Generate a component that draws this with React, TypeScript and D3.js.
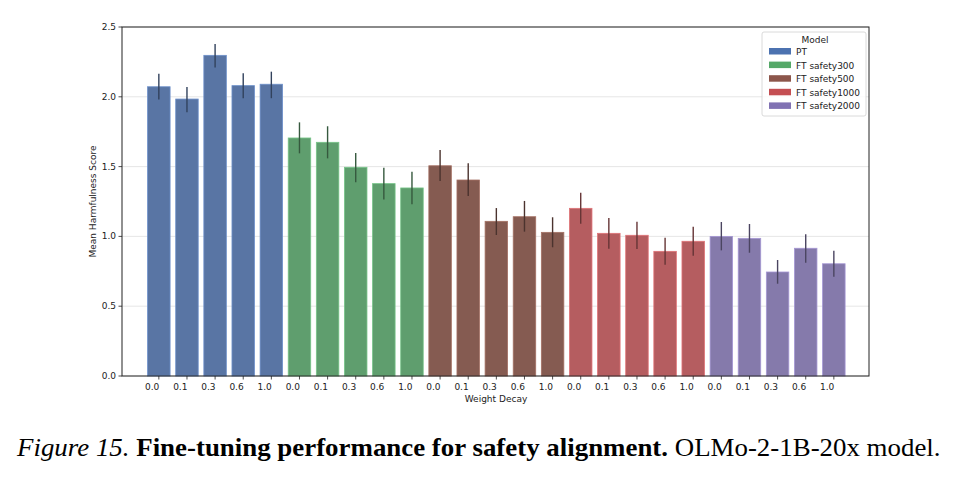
import * as React from 'react';
import * as d3 from 'd3';

const groups = ['PT', 'FT safety300', 'FT safety500', 'FT safety1000', 'FT safety2000'];
const decays = ['0.0', '0.1', '0.3', '0.6', '1.0'];
const barColors = ['#5975a4', '#5f9e6e', '#855b51', '#b55d60', '#857aab'];
const legendColors = ['#4c72b0', '#55a868', '#8c564b', '#c44e52', '#8172b3'];

// mean score per group, one value per weight decay
const means = [
  [2.072, 1.984, 2.297, 2.08, 2.09],
  [1.705, 1.674, 1.495, 1.378, 1.347],
  [1.506, 1.404, 1.108, 1.141, 1.029],
  [1.201, 1.022, 1.008, 0.893, 0.965],
  [1.0, 0.986, 0.745, 0.915, 0.804],
];
const errLow = [
  [1.98, 1.89, 2.21, 1.99, 1.99],
  [1.595, 1.559, 1.387, 1.265, 1.23],
  [1.397, 1.289, 1.01, 1.034, 0.922],
  [1.091, 0.912, 0.91, 0.797, 0.862],
  [0.9, 0.883, 0.661, 0.812, 0.711],
];
const errHigh = [
  [2.165, 2.07, 2.378, 2.168, 2.18],
  [1.817, 1.789, 1.597, 1.492, 1.464],
  [1.619, 1.524, 1.203, 1.254, 1.137],
  [1.313, 1.132, 1.105, 0.991, 1.07],
  [1.103, 1.089, 0.831, 1.015, 0.898],
];
const yTicks = [0, 0.5, 1.0, 1.5, 2.0, 2.5];

const margin = { left: 122, right: 869, top: 27, bottom: 376 };
const font = 'DejaVu Sans, sans-serif';

export default function App() {
  const captionRef = React.useRef<SVGTextElement>(null);

  React.useEffect(() => {
    const el = captionRef.current;
    if (!el) return;
    const w = el.getComputedTextLength();
    const target = 924;
    if (w > 0) el.setAttribute('transform', `translate(17,0) scale(${target / w},1)`);
  }, []);

  const x = d3.scaleLinear().domain([-1.31, 25.25]).range([margin.left, margin.right]);
  const y = d3.scaleLinear().domain([0, 2.5]).range([margin.bottom, margin.top]);
  const step = x(1) - x(0);
  const bw = step * 0.8;

  const bars = groups.flatMap((g, gi) =>
    decays.map((d, di) => ({
      idx: gi * decays.length + di,
      label: d,
      gi,
      v: means[gi][di],
      lo: errLow[gi][di],
      hi: errHigh[gi][di],
    }))
  );

  return (
    <svg width={957} height={479} style={{ position: 'absolute', left: 0, top: 0, background: '#fff' }}>
      {/* grid */}
      {yTicks.map((t) => (
        <line key={'g' + t} x1={margin.left} x2={margin.right} y1={y(t)} y2={y(t)} stroke="#e3e3e3" strokeWidth={0.9} />
      ))}
      {/* bars */}
      {bars.map((b) => (
        <rect
          key={'b' + b.idx}
          x={x(b.idx) - bw / 2}
          y={y(b.v)}
          width={bw}
          height={y(0) - y(b.v)}
          fill={barColors[b.gi]}
          stroke={d3.color(barColors[b.gi])!.brighter(0.6).formatHex()}
          strokeWidth={0.8}
        />
      ))}
      {/* error bars */}
      {bars.map((b) => (
        <line
          key={'e' + b.idx}
          x1={x(b.idx)}
          x2={x(b.idx)}
          y1={y(b.lo)}
          y2={y(b.hi)}
          stroke={d3.color(barColors[b.gi])!.darker(1.6).formatHex()}
          strokeWidth={1.4}
        />
      ))}
      {/* frame */}
      <rect
        x={margin.left}
        y={margin.top}
        width={margin.right - margin.left}
        height={margin.bottom - margin.top}
        fill="none"
        stroke="#222"
        strokeWidth={1}
      />
      {/* y axis */}
      {yTicks.map((t) => (
        <g key={'yt' + t}>
          <line x1={margin.left - 3.5} x2={margin.left} y1={y(t)} y2={y(t)} stroke="#222" strokeWidth={0.8} />
          <text x={margin.left - 6} y={y(t)} dy="0.33em" textAnchor="end" fontFamily={font} fontSize={9} fill="#222">
            {t.toFixed(1)}
          </text>
        </g>
      ))}
      {/* x axis */}
      {bars.map((b) => (
        <g key={'xt' + b.idx}>
          <line x1={x(b.idx)} x2={x(b.idx)} y1={margin.bottom} y2={margin.bottom + 3.5} stroke="#222" strokeWidth={0.8} />
          <text x={x(b.idx) + 0.5} y={margin.bottom + 14} textAnchor="end" fontFamily={font} fontSize={9} fill="#222">
            {b.label}
          </text>
        </g>
      ))}
      <text x={496} y={402} textAnchor="middle" fontFamily={font} fontSize={9} fill="#222">
        Weight Decay
      </text>
      <text
        transform={`translate(96,${(margin.top + margin.bottom) / 2}) rotate(-90)`}
        textAnchor="middle"
        fontFamily={font}
        fontSize={9}
        fill="#222"
      >
        Mean Harmfulness Score
      </text>
      {/* legend */}
      <g>
        <rect x={762} y={32} width={104} height={84} rx={2} fill="#fff" fillOpacity={0.8} stroke="#d0d0d0" strokeWidth={0.8} />
        <text x={815} y={43} textAnchor="middle" fontFamily={font} fontSize={9} fill="#222">
          Model
        </text>
        {groups.map((g, i) => (
          <g key={'l' + g} transform={`translate(0,${55 + i * 13.6})`}>
            <rect x={769} y={-7} width={22} height={6.5} fill={legendColors[i]} />
            <text x={796} y={0} fontFamily={font} fontSize={9} fill="#222">
              {g}
            </text>
          </g>
        ))}
      </g>
      {/* caption */}
      <text ref={captionRef} x={0} y={456} fontFamily="Liberation Serif, serif" fontSize={26} fill="#000">
        <tspan fontStyle="italic">Figure 15.</tspan>
        <tspan fontWeight="bold"> Fine-tuning performance for safety alignment.</tspan>
        <tspan> OLMo-2-1B-20x model.</tspan>
      </text>
    </svg>
  );
}
